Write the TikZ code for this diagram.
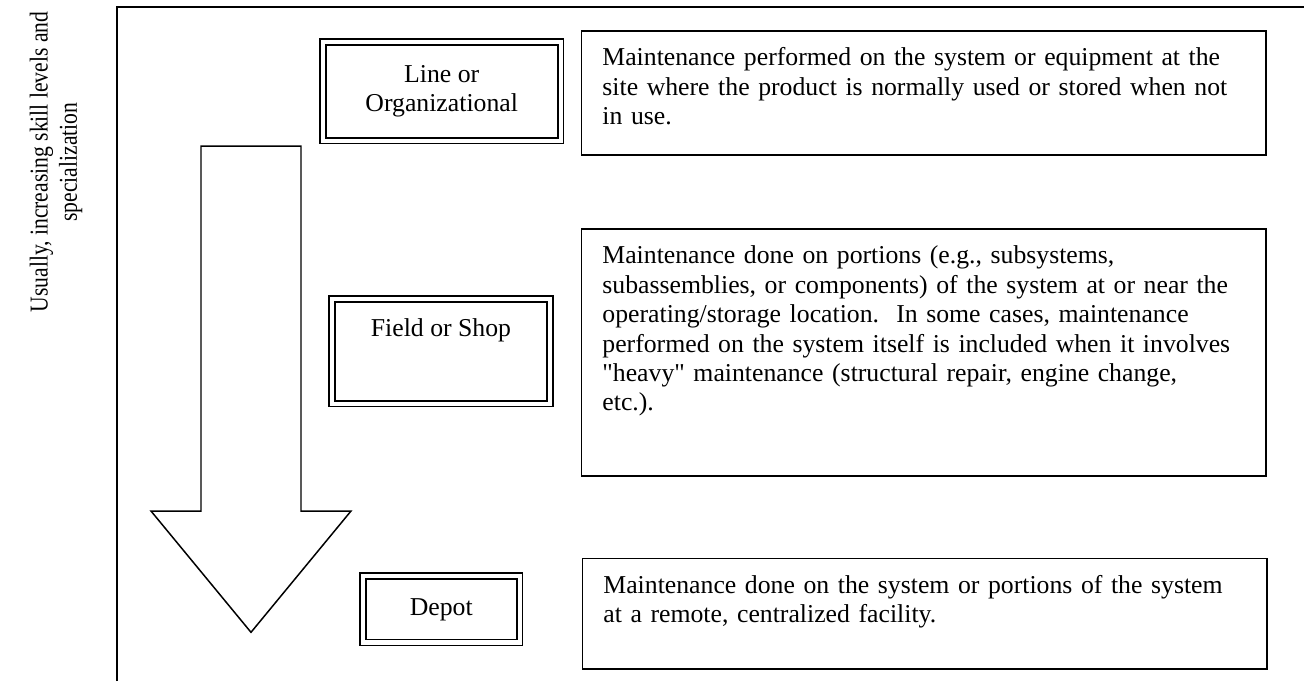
\documentclass[tikz,border=0pt]{standalone}
\usepackage{fontspec}
\setmainfont{Liberation Serif}
\usetikzlibrary{arrows}
\usetikzlibrary{positioning}

\begin{document}
\begin{tikzpicture}[x=0.47pt,y=-0.47pt,
  every node/.style={font=\fontsize{12.1}{13.8}\selectfont},
  levelbox/.style={draw, double, double distance=1.9pt, line width=0.8pt, align=center, inner sep=0pt},
  descbox/.style={draw, line width=0.8pt, anchor=north west, text width=302pt, align=left,
    inner xsep=9.9pt, inner ysep=8pt, text height=8.5pt}]
  \useasboundingbox (0,0) rectangle (1304,681);
  % frame
  \draw[line width=0.9pt] (117,681) -- (117,7) -- (1304,7);
  \node (skill) [rotate=90, xscale=0.84, align=center] at (56,162) {Usually, increasing skill levels and\\specialization};
  % big arrow
  \draw[line width=0.7pt] (201,146) -- (301,146) -- (301,511) -- (351,511) -- (251,632.3) -- (151,511) -- (201,511) -- cycle;
  % levels
  \node (line) [levelbox, minimum width=111.7pt, minimum height=46.4pt] at (441.7,91.4) {Line or\\Organizational};
  \node (field) [levelbox, minimum width=102.3pt, minimum height=49.3pt, text height=8.5pt, text depth=22pt] at (441,351.3) {Field or Shop};
  \node (depot) [levelbox, minimum width=73.7pt, minimum height=31.2pt] at (441.3,609.3) {Depot};
  % descriptions
  \node (lined) [descbox, text depth=33.8pt] at (580.5,30) {Maintenance performed on the system or equipment at the\\site where the product is normally used or stored when not\\in use.};
  \node (fieldd) [descbox, text depth=91.5pt] at (580.5,228) {Maintenance done on portions (e.g., subsystems,\\subassemblies, or components) of the system at or near the\\operating/storage location.\ \ In some cases, maintenance\\performed on the system itself is included when it involves\\\textquotedbl heavy\textquotedbl{} maintenance (structural repair, engine change,\\etc.).};
  \node (depotd) [descbox, text depth=27.5pt] at (581.5,557.5) {Maintenance done on the system or portions of the system\\at a remote, centralized facility.};
\end{tikzpicture}
\end{document}
